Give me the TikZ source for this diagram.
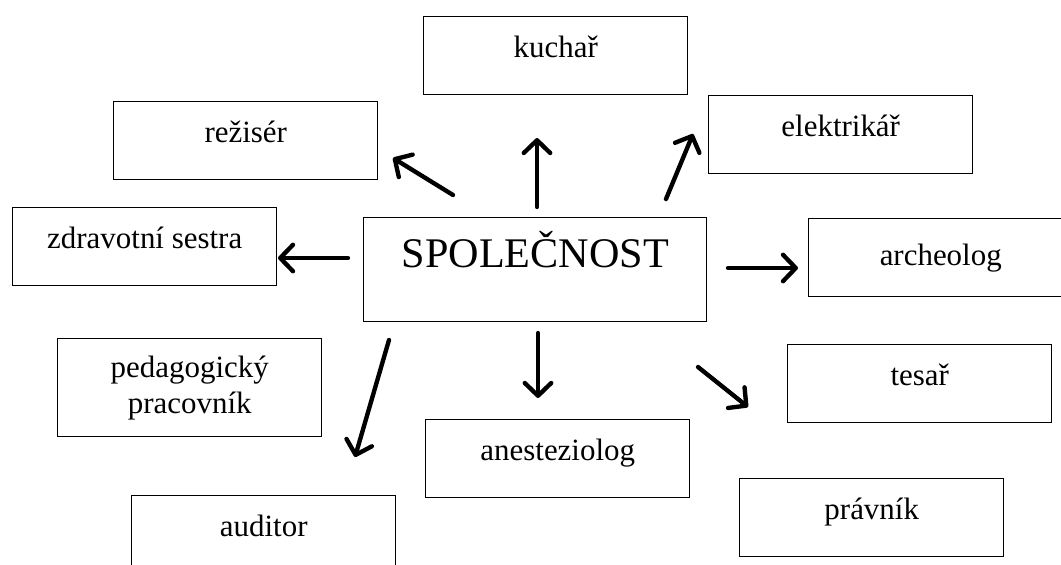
\documentclass[tikz,border=0pt]{standalone}
\usepackage{fontspec}
\setmainfont{Liberation Serif}
\usepackage{tikz}
\usetikzlibrary{arrows.meta,positioning}
\tikzset{
  ar/.style={-{Straight Barb[length=3.2mm,width=6.6mm,round]},line width=3.1pt,line cap=round,black},
  box/.style={draw,line width=1pt,anchor=north west,minimum width=6.6cm,inner ysep=0pt,
    text height=1.02cm,text depth=0.93cm,align=center,font=\fontsize{22}{25.5}\selectfont}
}
\begin{document}
\begin{tikzpicture}[x=0.025cm,y=-0.025cm]
\useasboundingbox (0,0) rectangle (1061,565);
\clip (0,0) rectangle (1061,565);
% boxes
\node[box,minimum width=8.575cm,text height=1.25cm,text depth=1.35cm,font=\fontsize{30}{34}\selectfont] (spol) at (363,217) {SPOLEČNOST};
\node[box] (kuchar) at (423,16) {kuchař};
\node[box] (reziser) at (113,101) {režisér};
\node[box] (elektr) at (708,95) {elektrikář};
\node[box] (zdrav) at (12,207) {zdravotní sestra};
\node[box,text height=1.175cm,text depth=0.775cm] (archeo) at (808,218) {archeolog};
\node[box,text height=1.875cm,text depth=0.575cm] (pedag) at (57,338) {pedagogický\\ pracovník};
\node[box] (anest) at (425,419) {anesteziolog};
\node[box] (tesar) at (787,344) {tesař};
\node[box] (pravnik) at (739,478) {právník};
\node[box] (auditor) at (131,495) {auditor};
% arrow ends
\coordinate (kuS) at (537,207); \coordinate (kuE) at (537,138);
\coordinate (reS) at (453,195); \coordinate (reE) at (393,158);
\coordinate (elS) at (666,199); \coordinate (elE) at (693,134);
\coordinate (zdS) at (348,258); \coordinate (zdE) at (278,258);
\coordinate (arS) at (728,268); \coordinate (arE) at (798,268);
\coordinate (auS) at (389,340); \coordinate (auE) at (355,457);
\coordinate (anS) at (538,333); \coordinate (anE) at (538,398);
\coordinate (teS) at (698,367); \coordinate (teE) at (748,407);
\draw[ar] (kuS) -- (kuE);
\draw[ar] (reS) -- (reE);
\draw[ar] (elS) -- (elE);
\draw[ar] (zdS) -- (zdE);
\draw[ar] (arS) -- (arE);
\draw[ar] (auS) -- (auE);
\draw[ar] (anS) -- (anE);
\draw[ar] (teS) -- (teE);
\end{tikzpicture}
\end{document}
